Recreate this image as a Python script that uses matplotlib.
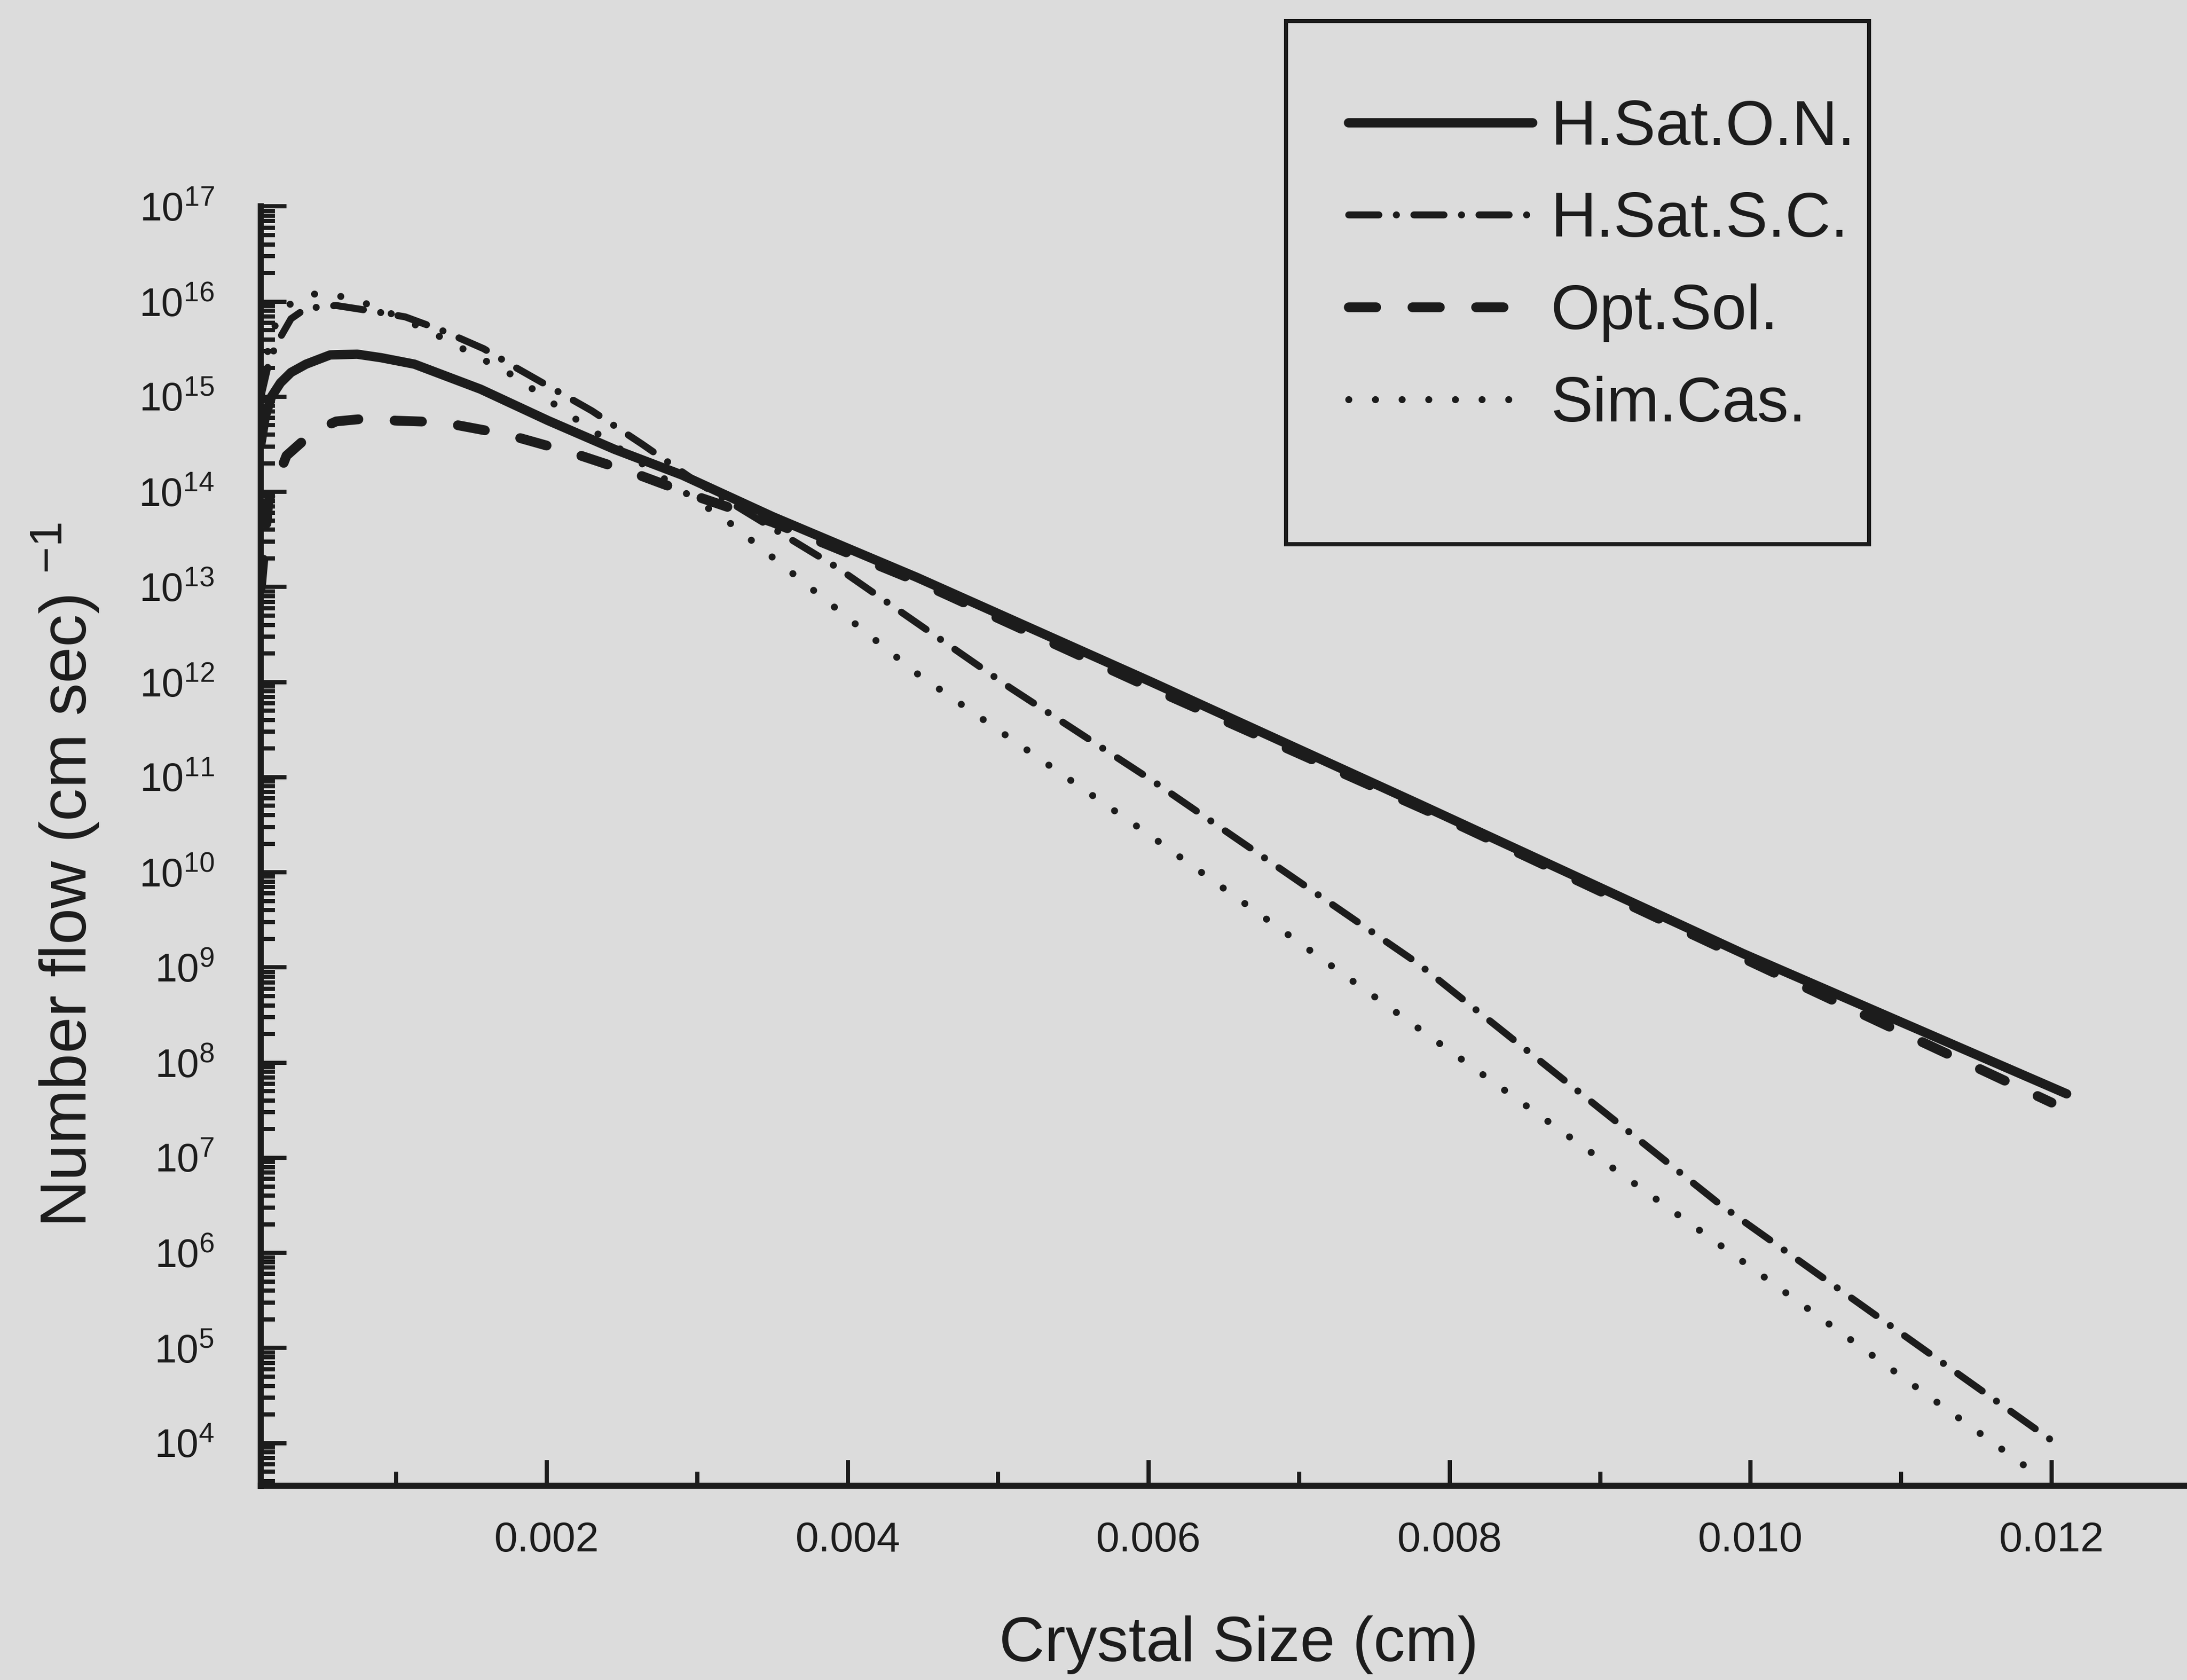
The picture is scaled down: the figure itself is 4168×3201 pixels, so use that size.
import matplotlib
matplotlib.use('Agg')
import matplotlib.pyplot as plt
from matplotlib.patches import Rectangle
from matplotlib.ticker import LogLocator, MultipleLocator, FuncFormatter, NullFormatter

# crystal size (cm) vs number flow (cm sec)^-1 for the four models
hsat_on_x = [0.0001, 0.00013, 0.00017, 0.00023, 0.0003, 0.0004, 0.00056, 0.00074,
             0.0009, 0.00112, 0.00156, 0.00201, 0.00245, 0.0029, 0.0035, 0.00446,
             0.00602, 0.0078, 0.00995, 0.0121]
hsat_on_y = [3.2e14, 6.3e14, 1.0e15, 1.4e15, 1.8e15, 2.2e15, 2.75e15, 2.8e15,
             2.57e15, 2.2e15, 1.2e15, 5.6e14, 2.8e14, 1.5e14, 5.5e13, 1.26e13,
             1.0e12, 5.2e10, 1.4e9, 4.7e7]

hsat_sc_x = [0.0001, 0.00015, 0.0002, 0.0003, 0.0004, 0.0006, 0.00085, 0.00106,
             0.0013, 0.00158, 0.0018, 0.0023, 0.00263, 0.003, 0.00393, 0.00508,
             0.00602, 0.00779, 0.0098, 0.012]
hsat_sc_y = [1.0e15, 2.2e15, 3.5e15, 6.6e15, 8.5e15, 9.1e15, 7.9e15, 6.9e15,
             5.0e15, 3.2e15, 2.0e15, 7.1e14, 3.2e14, 1.26e14, 1.6e13, 8.7e11,
             9.3e10, 1.1e9, 3.2e6, 1.07e4]

opt_sol_x = [0.0001, 0.00015, 0.0002, 0.00027, 0.00045, 0.0006, 0.0008, 0.001,
             0.0013, 0.00174, 0.00216, 0.00259, 0.003, 0.0035, 0.00446, 0.006,
             0.008, 0.010, 0.012]
opt_sol_y = [1.0e13, 8.0e13, 1.26e14, 2.4e14, 4.3e14, 5.5e14, 5.9e14, 5.6e14,
             5.4e14, 4.0e14, 2.6e14, 1.55e14, 8.9e13, 4.8e13, 1.15e13, 8.9e11,
             3.5e10, 1.15e9, 3.8e7]

sim_cas_x = [0.0001, 0.00015, 0.0002, 0.00029, 0.0004, 0.00049, 0.0006, 0.0008,
             0.001, 0.0013, 0.00178, 0.00216, 0.00321, 0.00446, 0.006, 0.00761,
             0.00979, 0.0119]
sim_cas_y = [1.6e15, 3.2e15, 6.0e15, 9.3e15, 1.15e16, 1.23e16, 1.17e16, 9.5e15,
             7.1e15, 4.2e15, 1.66e15, 6.3e14, 4.8e13, 1.23e12, 2.5e10, 3.7e8,
             1.23e6, 4.7e3]

x_major = [0.002, 0.004, 0.006, 0.008, 0.010, 0.012]

paper = '#dcdcdc'
ink = '#1c1c1c'

plt.rcParams['font.family'] = ['Liberation Sans', 'DejaVu Sans']
plt.rcParams['mathtext.fontset'] = 'custom'
plt.rcParams['mathtext.rm'] = 'Liberation Sans'
plt.rcParams['mathtext.it'] = 'Liberation Sans:italic'
plt.rcParams['mathtext.bf'] = 'Liberation Sans:bold'

fig = plt.figure(figsize=(4168 / 320, 3201 / 320), dpi=320, facecolor=paper)
ax = fig.add_axes([0.1193, 0.1155, 0.8807, 0.7616])
ax.set_facecolor(paper)

ax.plot(hsat_on_x, hsat_on_y, color=ink, lw=4.0, solid_capstyle='round',
        label='H.Sat.O.N.', zorder=4)
ax.plot(hsat_sc_x, hsat_sc_y, color=ink, lw=3.0, dash_capstyle='round',
        linestyle=(0, (4.3, 2.5, 0.01, 2.5)), label='H.Sat.S.C.', zorder=3)
ax.plot(opt_sol_x, opt_sol_y, color=ink, lw=4.2, dash_capstyle='round',
        linestyle=(0, (2.8, 3.7)), label='Opt.Sol.', zorder=3)
ax.plot(sim_cas_x, sim_cas_y, color=ink, lw=3.0, dash_capstyle='round',
        linestyle=(0, (0.01, 3.8)), label='Sim.Cas.', zorder=3)

ax.set_yscale('log')
ax.set_ylim(10 ** 3.55, 1e17)
ax.set_xlim(0.0001, 0.0129)

ax.yaxis.set_major_locator(LogLocator(base=10, numticks=20))
ax.yaxis.set_minor_locator(LogLocator(base=10, subs=range(2, 10), numticks=200))
ax.yaxis.set_minor_formatter(NullFormatter())
ax.set_xticks(x_major)
ax.xaxis.set_minor_locator(MultipleLocator(0.001))
ax.xaxis.set_major_formatter(FuncFormatter(lambda v, pos: f'{v:.3f}'))

for side in ['top', 'right']:
    ax.spines[side].set_visible(False)
for side in ['left', 'bottom']:
    ax.spines[side].set_linewidth(2.6)
    ax.spines[side].set_color(ink)

ax.tick_params(which='both', direction='in', color=ink, width=1.8)
ax.tick_params(which='major', length=11)
ax.tick_params(which='minor', length=6)
ax.tick_params(axis='x', which='major', labelsize=18, pad=15, labelcolor=ink)
ax.tick_params(axis='y', which='major', labelsize=17, pad=20, labelcolor=ink)

ax.set_xlabel('Crystal Size (cm)', fontsize=27, color=ink)
ax.xaxis.set_label_coords(0.5076, -0.101)
ax.set_ylabel('Number flow (cm sec) $^{-1}$', fontsize=28, color=ink)
ax.yaxis.set_label_coords(-0.083, 0.4776)

# legend sits in a tall open box above the top right of the plot
box = Rectangle((0.588, 0.6761), 0.2666, 0.3115, transform=fig.transFigure,
                facecolor=paper, edgecolor=ink, linewidth=1.8, zorder=5)
fig.add_artist(box)
leg = fig.legend(loc='upper left', bbox_to_anchor=(0.6167, 0.941),
                 frameon=False, fontsize=27, handlelength=2.92,
                 handletextpad=0.29, labelspacing=0.53, borderpad=0,
                 borderaxespad=0)
leg.set_zorder(6)
for txt in leg.get_texts():
    txt.set_color(ink)

fig.savefig('out.png', dpi=320, facecolor=paper)
